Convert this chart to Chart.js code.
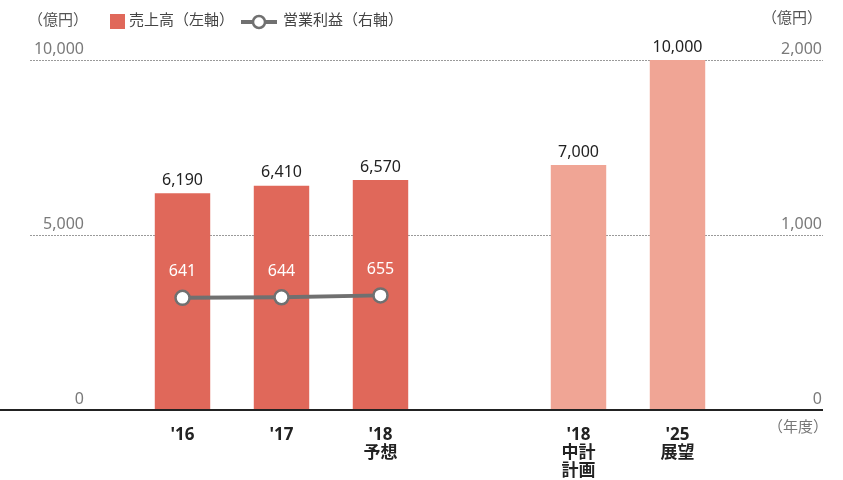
<!DOCTYPE html>
<html>
<head>
<meta charset="utf-8">
<script src="https://cdn.jsdelivr.net/npm/chart.js@4"></script>
<style>
  html, body { margin: 0; padding: 0; background: #fff; }
  #wrap { position: relative; width: 843px; height: 480px; }
</style>
</head>
<body>
<div id="wrap"><canvas id="salesChart" width="843" height="480"></canvas></div>
<script>
// data
const categories = [["'16"], ["'17"], ["'18", '予想'], [''], ["'18", '中計', '計画'], ["'25", '展望']];
const sales = [6190, 6410, 6570, null, 7000, 10000];
const profit = [641, 644, 655, null, null, null];
const leftTicks = [0, 5000, 10000];
const rightTicks = [0, 1000, 2000];

const FONT = '"Noto Sans", "Noto Sans CJK JP", sans-serif';
const barColors = ['#e0685a', '#e0685a', '#e0685a', '#e0685a', '#f0a595', '#f0a595'];
const fmt = v => v.toLocaleString('en-US');

const decorations = {
    id: 'decorations',
    beforeDatasetsDraw(chart) {
        const { ctx, scales: { y, y1 } } = chart;
        ctx.save();
        // dashed grid lines
        ctx.strokeStyle = '#9a9a9a';
        ctx.lineWidth = 1;
        ctx.setLineDash([2, 1]);
        leftTicks.slice(1).forEach(v => {
            const py = Math.round(y.getPixelForValue(v)) + 0.5;
            ctx.beginPath();
            ctx.moveTo(30, py);
            ctx.lineTo(823, py);
            ctx.stroke();
        });
        ctx.setLineDash([]);
        // axis labels
        ctx.font = '16px ' + FONT;
        ctx.fillStyle = '#7a7a7a';
        ctx.textBaseline = 'bottom';
        ctx.textAlign = 'right';
        leftTicks.forEach(v => ctx.fillText(fmt(v), 84, y.getPixelForValue(v) - 3));
        rightTicks.forEach(v => ctx.fillText(fmt(v), 822, y1.getPixelForValue(v) - 3));
        // unit labels
        ctx.fillStyle = '#555';
        ctx.font = '15px ' + FONT;
        ctx.textAlign = 'left';
        ctx.textBaseline = 'middle';
        ctx.fillText('（億円）', 28, 21);
        ctx.fillText('（億円）', 762, 19);
        ctx.fillStyle = '#777';
        ctx.fillText('（年度）', 768, 428);
        // legend
        ctx.fillStyle = barColors[0];
        ctx.fillRect(110, 14, 15, 15);
        ctx.fillStyle = '#444';
        ctx.fillText('売上高（左軸）', 129, 21);
        ctx.strokeStyle = '#707070';
        ctx.lineWidth = 4;
        ctx.beginPath();
        ctx.moveTo(241, 22);
        ctx.lineTo(277, 22);
        ctx.stroke();
        ctx.fillStyle = '#fff';
        ctx.lineWidth = 2.5;
        ctx.beginPath();
        ctx.arc(259, 22, 6, 0, Math.PI * 2);
        ctx.fill();
        ctx.stroke();
        ctx.fillStyle = '#444';
        ctx.fillText('営業利益（右軸）', 283, 21);
        ctx.restore();
    },
    afterDatasetsDraw(chart) {
        const { ctx, scales: { y } } = chart;
        ctx.save();
        // baseline
        const by = y.getPixelForValue(0);
        ctx.strokeStyle = '#222';
        ctx.lineWidth = 2;
        ctx.beginPath();
        ctx.moveTo(0, by);
        ctx.lineTo(823, by);
        ctx.stroke();
        // bar values
        ctx.font = '16px ' + FONT;
        ctx.textAlign = 'center';
        ctx.textBaseline = 'bottom';
        ctx.fillStyle = '#222';
        chart.getDatasetMeta(1).data.forEach((bar, i) => {
            if (sales[i] == null) return;
            ctx.fillText(fmt(sales[i]), bar.x, bar.y - 5);
        });
        // profit values
        ctx.fillStyle = '#fff';
        ctx.textBaseline = 'middle';
        chart.getDatasetMeta(0).data.forEach((pt, i) => {
            if (profit[i] == null) return;
            ctx.fillText(fmt(profit[i]), pt.x, pt.y - 26);
        });
        ctx.restore();
    }
};

const ctx = document.getElementById('salesChart');
new Chart(ctx, {
    data: {
        labels: categories,
        datasets: [{
            type: 'line',
            label: '営業利益（右軸）',
            data: profit,
            yAxisID: 'y1',
            borderColor: '#707070',
            borderWidth: 4,
            pointRadius: 7,
            pointBorderWidth: 2.5,
            pointBackgroundColor: '#fff',
            pointBorderColor: '#707070',
            tension: 0,
            order: 0
        }, {
            type: 'bar',
            label: '売上高（左軸）',
            data: sales,
            yAxisID: 'y',
            backgroundColor: barColors,
            barPercentage: 0.56,
            categoryPercentage: 1,
            order: 1
        }]
    },
    options: {
        responsive: false,
        animation: false,
        layout: { padding: { left: 133, right: 116, top: 60, bottom: 0 } },
        plugins: { legend: { display: false }, tooltip: { enabled: false } },
        scales: {
            x: {
                grid: { display: false },
                border: { display: false },
                afterFit(scale) { scale.height = 70; },
                ticks: {
                    color: '#222',
                    font: { family: FONT, size: 17, weight: 'bold', lineHeight: 1.06 },
                    padding: 8,
                    maxRotation: 0,
                    autoSkip: false
                }
            },
            y: {
                position: 'left',
                min: 0,
                max: 10000,
                display: false
            },
            y1: {
                position: 'right',
                min: 0,
                max: 2000,
                display: false
            }
        }
    },
    plugins: [decorations]
});
</script>
</body>
</html>
